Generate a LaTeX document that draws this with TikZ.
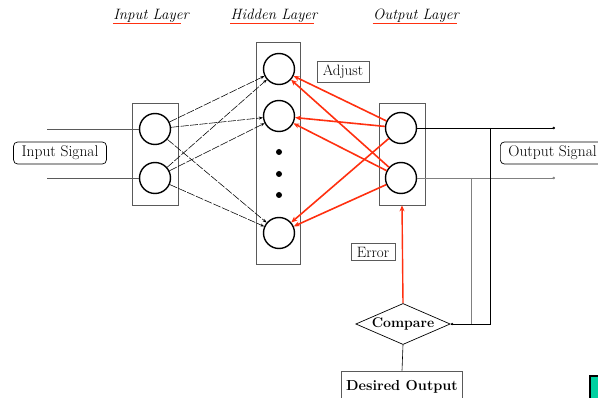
\documentclass[tikz,border=0pt]{standalone}
\usetikzlibrary{arrows.meta,shapes.geometric}
\definecolor{redline}{RGB}{255,48,16}
\definecolor{boxgray}{RGB}{90,90,90}
\definecolor{teal1}{RGB}{0,208,160}
\begin{document}
\begin{tikzpicture}[x=1pt,y=-1pt,
  neuron/.style={circle,draw,line width=1.4pt,minimum size=31pt,inner sep=0pt},
  layerbox/.style={draw=boxgray,line width=0.7pt},
  lbl/.style={draw=boxgray,line width=0.7pt,font=\fontsize{15}{17}\selectfont,inner ysep=3.5pt,inner xsep=6pt},
  rlbl/.style={draw,rounded corners=4pt,line width=0.7pt,font=\fontsize{15.5}{17}\selectfont,inner ysep=4pt,inner xsep=8pt},
  title/.style={font=\fontsize{15}{17}\itshape\selectfont},
  fwd/.style={line width=0.55pt,dash pattern=on 8pt off 1.5pt,-{Stealth[length=4pt,width=3pt]}},
  back/.style={redline,line width=1.6pt,-{Stealth[length=6pt,width=5pt]}},
  sig/.style={line width=0.6pt},
  dotend/.style={-{Circle[length=2.5pt]}}
]
\useasboundingbox (0,0) rectangle (598,398);

% titles
\node[title] (t1) at (151,16) {Input Layer};
\node[title] (t2) at (274,16) {Hidden Layer};
\node[title] (t3) at (416,16) {Output Layer};
\draw[redline,line width=0.8pt] (t1.south west)++(3,-3) -- ++(68,0);
\draw[redline,line width=0.8pt] (t2.south west)++(3,-3) -- ++(84,0);
\draw[redline,line width=0.8pt] (t3.south west)++(3,-3) -- ++(84,0);

% layer boxes
\node[layerbox,minimum width=46pt,minimum height=102pt] (ibox) at (155,154) {};
\node[layerbox,minimum width=44pt,minimum height=222pt] (hbox) at (278,153) {};
\node[layerbox,minimum width=46pt,minimum height=102pt] (obox) at (402,154) {};

% neurons
\node[neuron] (i1) at (155,129) {};
\node[neuron] (i2) at (155,178) {};
\node[neuron] (h1) at (279,69) {};
\node[neuron] (h2) at (279,116) {};
\node[neuron] (h3) at (279,233) {};
\node[neuron] (o1) at (401,128) {};
\node[neuron] (o2) at (401,178) {};
\foreach \y/\n in {152/d1,174/d2,195/d3}
  \fill (279,\y) circle (3pt);

% labels
\node[rlbl] (insig) at (60,153) {Input Signal};
\node[rlbl,anchor=west] (outsig) at (500,153) {Output Signal};
\node[lbl] (adjust) at (343,72) {Adjust};
\node[lbl] (error) at (373,252) {Error};
\node[diamond,aspect=2.3,draw,line width=0.7pt,inner sep=0.5pt,font=\fontsize{14}{16}\bfseries\selectfont] (cmp) at (403,324) {Compare};
\node[draw=boxgray,line width=0.7pt,minimum width=121pt,minimum height=32pt,font=\fontsize{14.5}{16}\bfseries\selectfont] (des) at (402,387) {Desired Output};

% input lines
\coordinate (a1) at (47,129);
\coordinate (a2) at (47,178);
\draw[sig,boxgray] (a1) -- (i1);
\draw[sig,boxgray] (a2) -- (i2);

% forward connections
\foreach \i in {i1,i2}
  \foreach \h in {h1,h2,h3}
    \draw[fwd] (\i) -- (\h);

% backward (red) connections
\foreach \o in {o1,o2}
  \foreach \h in {h1,h2,h3}
    \draw[back] (\o) -- (\h);

% outputs
\coordinate (e1) at (555,128);
\coordinate (e2) at (555,178);
\draw[sig,dotend] (o1) -- (e1);
\draw[sig,dotend,gray] (o2) -- (e2);
\coordinate (v1) at (490,128);
\coordinate (v1b) at (490,324);
\coordinate (v2) at (471,178);
\coordinate (v2b) at (471,324);
\draw[sig] (v1) -- (v1b) -- (cmp.east);
\fill (cmp.east) ++(1.5,0) circle (1.3pt);
\draw[line width=0.4pt,gray] (v2) -- (v2b);

% error
\draw[back,line width=1.4pt] (cmp.north) -- (obox.south);
\draw[sig] (cmp.south) -- (des.north);

% green artifact
\draw[fill=teal1,line width=1.2pt] (590,376) rectangle (610,410);
\end{tikzpicture}
\end{document}
